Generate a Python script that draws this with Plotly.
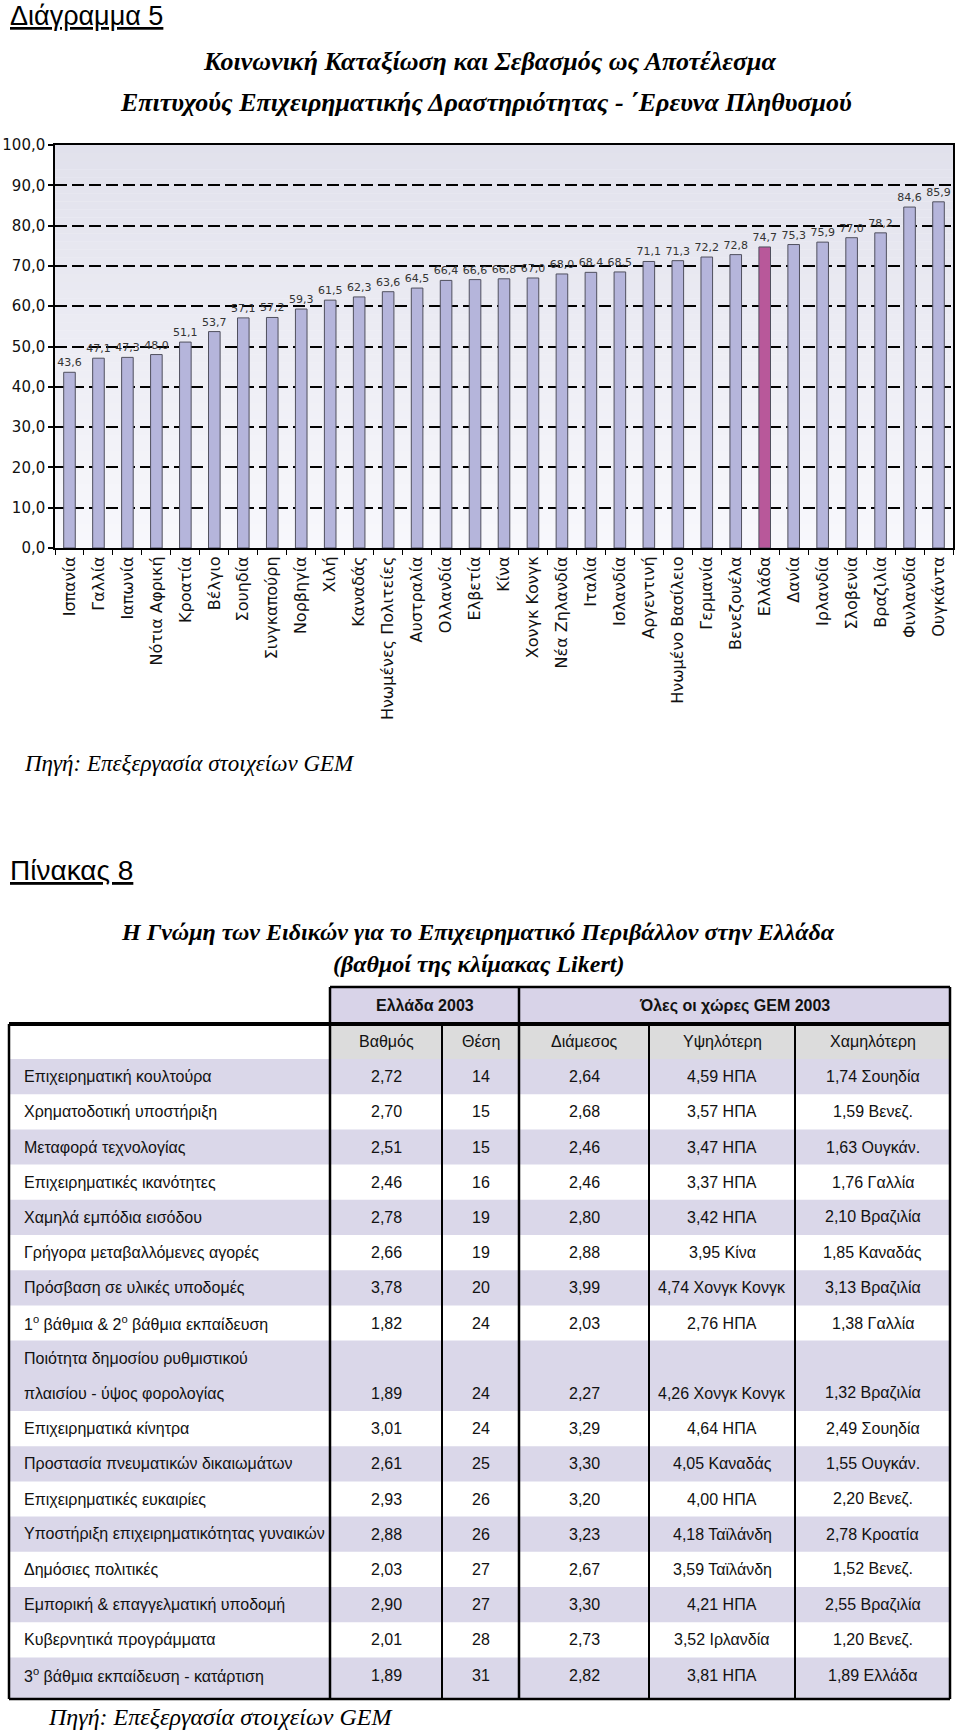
import plotly.graph_objects as go

# ---------------- chart data ----------------
countries = ["Ισπανία", "Γαλλία", "Ιαπωνία", "Νότια Αφρική", "Κροατία", "Βέλγιο", "Σουηδία",
             "Σινγκαπούρη", "Νορβηγία", "Χιλή", "Καναδάς", "Ηνωμένες Πολιτείες", "Αυστραλία",
             "Ολλανδία", "Ελβετία", "Κίνα", "Χονγκ Κονγκ", "Νέα Ζηλανδία", "Ιταλία", "Ισλανδία",
             "Αργεντινή", "Ηνωμένο Βασίλειο", "Γερμανία", "Βενεζουέλα", "Ελλάδα", "Δανία",
             "Ιρλανδία", "Σλοβενία", "Βραζιλία", "Φινλανδία", "Ουγκάντα"]
scores = [43.6, 47.1, 47.3, 48.0, 51.1, 53.7, 57.1, 57.2, 59.3, 61.5, 62.3, 63.6, 64.5,
          66.4, 66.6, 66.8, 67.0, 68.0, 68.4, 68.5, 71.1, 71.3, 72.2, 72.8, 74.7, 75.3,
          75.9, 77.0, 78.2, 84.6, 85.9]
highlight = "Ελλάδα"
y_ticks = [0, 10, 20, 30, 40, 50, 60, 70, 80, 90, 100]

# ---------------- table data ----------------
header_groups = ["Ελλάδα 2003", "Όλες οι χώρες GEM 2003"]
header_cols = ["Βαθμός", "Θέση", "Διάμεσος", "Υψηλότερη", "Χαμηλότερη"]
factors = ["Επιχειρηματική κουλτούρα", "Χρηματοδοτική υποστήριξη", "Μεταφορά τεχνολογίας",
           "Επιχειρηματικές ικανότητες", "Χαμηλά εμπόδια εισόδου", "Γρήγορα μεταβαλλόμενες αγορές",
           "Πρόσβαση σε υλικές υποδομές", "1<sup>ο</sup> βάθμια & 2<sup>ο</sup> βάθμια εκπαίδευση",
           "Ποιότητα δημοσίου ρυθμιστικού<br>πλαισίου - ύψος φορολογίας", "Επιχειρηματικά κίνητρα",
           "Προστασία πνευματικών δικαιωμάτων", "Επιχειρηματικές ευκαιρίες",
           "Υποστήριξη επιχειρηματικότητας γυναικών", "Δημόσιες πολιτικές",
           "Εμπορική & επαγγελματική υποδομή", "Κυβερνητικά προγράμματα",
           "3<sup>ο</sup> βάθμια εκπαίδευση - κατάρτιση"]
gr_score = [2.72, 2.70, 2.51, 2.46, 2.78, 2.66, 3.78, 1.82, 1.89, 3.01, 2.61, 2.93, 2.88, 2.03, 2.90, 2.01, 1.89]
gr_rank = [14, 15, 15, 16, 19, 19, 20, 24, 24, 24, 25, 26, 26, 27, 27, 28, 31]
median = [2.64, 2.68, 2.46, 2.46, 2.80, 2.88, 3.99, 2.03, 2.27, 3.29, 3.30, 3.20, 3.23, 2.67, 3.30, 2.73, 2.82]
high_val = [4.59, 3.57, 3.47, 3.37, 3.42, 3.95, 4.74, 2.76, 4.26, 4.64, 4.05, 4.00, 4.18, 3.59, 4.21, 3.52, 3.81]
high_cty = ["ΗΠΑ", "ΗΠΑ", "ΗΠΑ", "ΗΠΑ", "ΗΠΑ", "Κίνα", "Χονγκ Κονγκ", "ΗΠΑ", "Χονγκ Κονγκ", "ΗΠΑ",
            "Καναδάς", "ΗΠΑ", "Ταϊλάνδη", "Ταϊλάνδη", "ΗΠΑ", "Ιρλανδία", "ΗΠΑ"]
low_val = [1.74, 1.59, 1.63, 1.76, 2.10, 1.85, 3.13, 1.38, 1.32, 2.49, 1.55, 2.20, 2.78, 1.52, 2.55, 1.20, 1.89]
low_cty = ["Σουηδία", "Βενεζ.", "Ουγκάν.", "Γαλλία", "Βραζιλία", "Καναδάς", "Βραζιλία", "Γαλλία",
           "Βραζιλία", "Σουηδία", "Ουγκάν.", "Βενεζ.", "Κροατία", "Βενεζ.", "Βραζιλία", "Βενεζ.", "Ελλάδα"]

W, H = 960, 1734


def px(x):
    return x / W


def py(y):
    return 1 - y / H


def num(v, d=2):
    return f"{v:.{d}f}".replace(".", ",")


SANS = "DejaVu Sans"
ARIAL = "Liberation Sans"
SERIF = "Liberation Serif"

fig = go.Figure()

bar_colors = ["#b8589a" if c == highlight else "#b5b5db" for c in countries]
fig.add_trace(go.Bar(
    x=countries, y=scores,
    marker=dict(color=bar_colors, line=dict(color="#50505e", width=1)),
    texttemplate="%{y:.1f}", textposition="outside", constraintext="none",
    textfont=dict(family=SANS, size=11, color="#333"),
    cliponaxis=False, hoverinfo="skip",
))

shapes = []
# gradient background of plot area
N = 50
top_c = (0xe1, 0xe1, 0xec)
bot_c = (0xf8, 0xf8, 0xfc)
for i in range(N):
    t = (i + 0.5) / N
    c = tuple(round(bot_c[k] + (top_c[k] - bot_c[k]) * t) for k in range(3))
    shapes.append(dict(type="rect", xref="x domain", yref="y domain", x0=0, x1=1,
                       y0=i / N, y1=(i + 1) / N, layer="below", line=dict(width=0),
                       fillcolor="rgb(%d,%d,%d)" % c))

annotations = []


def text(x, y, s, size, family=ARIAL, anchor="left", color="#111", weight="normal", style="normal"):
    annotations.append(dict(x=px(x), y=py(y), xref="paper", yref="paper", text=s, showarrow=False,
                            xanchor=anchor, yanchor="middle",
                            font=dict(family=family, size=size, color=color, weight=weight, style=style)))


# page texts
text(8, 16, "<u>Διάγραμμα 5</u>", 27, family=ARIAL, color="#000")
text(490, 61, "Κοινωνική Καταξίωση και Σεβασμός ως Αποτέλεσμα", 26, family=SERIF, anchor="center",
     color="#000", weight="bold", style="italic")
text(486, 102, "Επιτυχούς Επιχειρηματικής Δραστηριότητας - ΄Ερευνα Πληθυσμού", 26, family=SERIF,
     anchor="center", color="#000", weight="bold", style="italic")
text(22, 763, "Πηγή: Επεξεργασία στοιχείων GEM", 23, family=SERIF, color="#000", style="italic")
text(8, 870, "<u>Πίνακας 8</u>", 28, family=ARIAL, color="#000")
text(478, 932, "Η Γνώμη των Ειδικών για το Επιχειρηματικό Περιβάλλον στην Ελλάδα", 24, family=SERIF,
     anchor="center", color="#000", weight="bold", style="italic")
text(478, 964, "(βαθμοί της κλίμακας Likert)", 24, family=SERIF, anchor="center", color="#000",
     weight="bold", style="italic")

# ---------------- table ----------------
cols = [9, 330, 442, 519, 649, 795, 950]
h1_top, h1_bot = 987, 1024
h2_bot = 1059
line_h = 35.2
table_bottom = 1699
LAV = "#dad7e9"
HEAD_LAV = "#d8d3e8"
GRAY = "#dcdcdc"

shapes.append(dict(type="rect", xref="paper", yref="paper", x0=px(cols[1]), x1=px(cols[6]),
                   y0=py(h1_bot), y1=py(h1_top), fillcolor=HEAD_LAV, line=dict(width=0)))
shapes.append(dict(type="rect", xref="paper", yref="paper", x0=px(cols[1]), x1=px(cols[6]),
                   y0=py(h2_bot), y1=py(h1_bot), fillcolor=GRAY, line=dict(width=0)))
text((cols[1] + cols[3]) / 2, (h1_top + h1_bot) / 2, header_groups[0], 16, anchor="center", weight="bold")
text((cols[3] + cols[6]) / 2, (h1_top + h1_bot) / 2, header_groups[1], 16, anchor="center", weight="bold")
for j, hname in enumerate(header_cols):
    text((cols[j + 1] + cols[j + 2]) / 2, (h1_bot + h2_bot) / 2, hname, 16, anchor="center")

y = h2_bot
for i, f in enumerate(factors):
    lines = f.split("<br>")
    top = y
    bottom = y + len(lines) * line_h
    fill_bottom = table_bottom if i == len(factors) - 1 else bottom
    if i % 2 == 0:
        shapes.append(dict(type="rect", xref="paper", yref="paper", x0=px(cols[0]), x1=px(cols[6]),
                           y0=py(fill_bottom), y1=py(top), fillcolor=LAV, line=dict(width=0)))
    for j, ln in enumerate(lines):
        text(22, top + (j + 0.5) * line_h, ln, 16)
    yc = top + (len(lines) - 0.5) * line_h
    vals = [num(gr_score[i]), str(gr_rank[i]), num(median[i]),
            f"{num(high_val[i])} {high_cty[i]}", f"{num(low_val[i])} {low_cty[i]}"]
    for j, v in enumerate(vals):
        text((cols[j + 1] + cols[j + 2]) / 2, yc, v, 16, anchor="center")
    y = bottom


def hline(x0, x1, yy, w=2):
    shapes.append(dict(type="line", xref="paper", yref="paper", x0=px(x0), x1=px(x1), y0=py(yy), y1=py(yy),
                       line=dict(color="black", width=w)))


def vline(xx, y0, y1, w=2):
    shapes.append(dict(type="line", xref="paper", yref="paper", x0=px(xx), x1=px(xx), y0=py(y0), y1=py(y1),
                       line=dict(color="black", width=w)))


hline(cols[1], cols[6], h1_top, 2.5)
hline(cols[0], cols[6], h1_bot, 4)
hline(cols[0], cols[6], table_bottom, 2.5)
vline(cols[0], h1_bot, table_bottom, 2.5)
vline(cols[1], h1_top, table_bottom, 2.5)
vline(cols[2], h1_bot, table_bottom, 2)
vline(cols[3], h1_top, table_bottom, 2.5)
vline(cols[4], h1_bot, table_bottom, 2)
vline(cols[5], h1_bot, table_bottom, 2)
vline(cols[6], h1_top, table_bottom, 2.5)

text(46, 1717, "Πηγή: Επεξεργασία στοιχείων GEM", 24, family=SERIF, color="#000", style="italic")

fig.update_layout(
    width=W, height=H,
    margin=dict(l=0, r=0, t=0, b=0),
    paper_bgcolor="white", plot_bgcolor="#f4f4f9",
    separators=",.",
    showlegend=False,
    bargap=0.6,
    shapes=shapes,
    annotations=annotations,
    xaxis=dict(domain=[px(55), px(953)], showline=True, linecolor="black", linewidth=2, mirror=True,
               ticks="outside", tickson="boundaries", ticklen=5, tickcolor="black", tickwidth=1,
               tickangle=-90, tickfont=dict(family=SANS, size=16, color="#111"),
               automargin=False, fixedrange=True),
    yaxis=dict(domain=[py(548), py(145)], range=[0, 100], tickvals=y_ticks, tickformat=".1f",
               showgrid=True, gridcolor="black", griddash="12px,5px", gridwidth=2,
               showline=True, linecolor="black", linewidth=1.5, mirror=True,
               ticks="outside", ticklen=5, tickcolor="black", tickwidth=1.5,
               tickfont=dict(family=SANS, size=15, color="#111"),
               zeroline=False, automargin=False, fixedrange=True),
)

fig.write_html("out.html", config={"displayModeBar": False},
               post_script="document.body.style.margin='0';")
